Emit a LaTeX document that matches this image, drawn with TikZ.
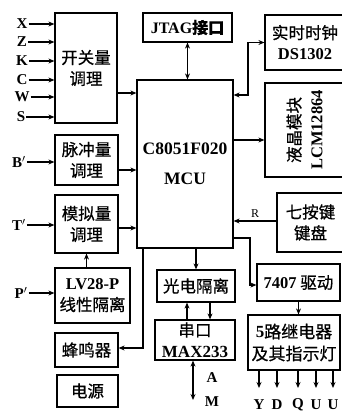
\documentclass[tikz,border=0pt]{standalone}
\usepackage{fontspec}
\setmainfont{Liberation Serif}
\newfontfamily\cjk{Noto Sans CJK SC}[FakeBold=0.6]
\usetikzlibrary{arrows.meta}
\newcommand\zh[1]{{\cjk #1}}
\begin{document}
\begin{tikzpicture}[x=1pt,y=-1pt,
  box/.style={draw, line width=1.2pt, inner sep=0pt, align=center, font=\cjk\fontsize{16.5}{21}\selectfont},
  latf/.style={font=\bfseries\fontsize{16}{21}\selectfont},
  arr/.style={-{Stealth[length=6pt,width=5pt]}, line width=1.2pt},
  darr/.style={{Stealth[length=6pt,width=5pt]}-{Stealth[length=6pt,width=5pt]}, line width=1.2pt},
  lbl/.style={font=\bfseries\fontsize{15}{15}\selectfont, inner sep=1pt},
  sml/.style={font=\fontsize{12}{12}\selectfont, inner sep=1pt}]
\useasboundingbox (0,0) rectangle (342,415);
\clip (0,0) rectangle (342,415);
% boxes
\node[box, minimum width=62pt, minimum height=110pt] (sw) at (86,68) {开关量\\调理};
\node[box, minimum width=96pt, minimum height=168pt, font=\bfseries\fontsize{17.5}{30}\selectfont] (mcu) at (185,164) {C8051F020\\MCU};
\node[box, minimum width=89pt, minimum height=29pt, latf] (jtag) at (187.5,27.5) {JTAG\zh{接口}};
\node[box, minimum width=80pt, minimum height=55pt] (rtc) at (305,42.5) {实时时钟\\{\bfseries\rmfamily DS1302}};
\node[box, minimum width=79pt, minimum height=94pt] (lcm) at (304.5,130) {};
\node[align=center, rotate=90, font=\cjk\fontsize{16.5}{22}\selectfont] (lcmt) at (lcm.center) {液晶模块\\{\bfseries\rmfamily LCM12864}};
\node[box, minimum width=67pt, minimum height=59pt] (key) at (310.5,222.5) {七按键\\键盘};
\node[box, minimum width=83pt, minimum height=37pt] (drv) at (298.5,282.5) {{\bfseries\rmfamily 7407} 驱动};
\node[box, minimum width=92pt, minimum height=55pt, font=\cjk\fontsize{17}{22}\selectfont] (relay) at (294,342.5) {{\bfseries\rmfamily 5}路继电器\\及其指示灯};
\node[box, minimum width=63pt, minimum height=50pt] (pulse) at (86.5,160) {脉冲量\\调理};
\node[box, minimum width=63pt, minimum height=58pt] (analog) at (86.5,224) {模拟量\\调理};
\node[box, minimum width=75pt, minimum height=55pt] (lv) at (92.5,295.5) {{\bfseries\rmfamily LV28-P}\\线性隔离};
\node[box, minimum width=63pt, minimum height=34pt] (buzz) at (86.5,350) {蜂鸣器};
\node[box, minimum width=61pt, minimum height=32pt] (pwr) at (87.5,391) {电源};
\node[box, minimum width=78pt, minimum height=32pt] (opto) at (196,286) {光电隔离};
\node[box, minimum width=80pt, minimum height=40pt] (uart) at (195,340) {串口\\{\bfseries\rmfamily\fontsize{17}{21}\selectfont MAX233}};
% inputs
\node[lbl] (iX) at (22,24) {X};
\node[lbl] (iZ) at (22,42) {Z};
\node[lbl] (iK) at (22,61) {K};
\node[lbl] (iC) at (22,80) {C};
\node[lbl] (iW) at (22,97) {W};
\node[lbl] (iS) at (21,117) {S};
\foreach \n in {iX,iZ,iK,iC,iW,iS}
  \draw[arr] (\n.east) -- (sw.west |- \n);
\node[lbl] (iB) at (19,162) {B$'$};
\node[lbl] (iT) at (19,225) {T$'$};
\node[lbl] (iP) at (21,293) {P$'$};
\draw[arr] (iB.east) -- (pulse.west |- iB);
\draw[arr] (iT.east) -- (analog.west |- iT);
\draw[arr] (iP.east) -- (lv.west |- iP);
% to MCU
\draw[arr] (sw.east |- 0,93) -- (mcu.west |- 0,93);
\draw[arr] (pulse.east |- 0,170) -- (mcu.west |- 0,170);
\draw[arr] (analog.east |- 0,228) -- (mcu.west |- 0,228);
\draw[arr] (analog.south |- lv.north) -- (analog.south);
\draw[darr] (jtag.south) -- (jtag.south |- mcu.north);
\draw[darr] (mcu.east |- 0,95) -- (248,95) -- (248,42.5) -- (rtc.west);
\draw[arr] (mcu.east |- 0,140) -- (lcm.west |- 0,140);
\draw[arr] (key.west |- 0,221) -- node[sml, above=2pt] (rl) {R} (mcu.east |- 0,221);
\draw[arr] (mcu.east |- 0,238) -- (250,238) -- (250,285) -- (drv.west |- 0,285);
\draw[arr] (drv.south) -- (drv.south |- relay.north);
% outputs
\coordinate (o1) at (259,388);
\coordinate (o2) at (277,388);
\coordinate (o3) at (298,388);
\coordinate (o4) at (316,388);
\coordinate (o5) at (333,388);
\foreach \c in {o1,o2,o3,o4,o5}
  \draw[arr] (relay.south -| \c) -- (\c);
\node[lbl] (lY) at (259,405) {Y};
\node[lbl] (lD) at (277,405) {D};
\node[lbl] (lQ) at (298,405) {Q};
\node[lbl] (lU1) at (316,405) {U};
\node[lbl] (lU2) at (333,405) {U};
% serial
\draw[arr] (opto.north |- mcu.south) -- (opto.north);
\draw[arr] (uart.north -| 187,0) -- (opto.south -| 187,0);
\draw[arr] (opto.south -| 210,0) -- (uart.north -| 210,0);
\coordinate (am) at (193,400);
\draw[darr] (uart.south -| am) -- (am);
\node[lbl] (lA) at (212,378) {A};
\node[lbl] (lM) at (212,402) {M};
% buzzer
\draw[arr] (mcu.south -| 143,0) -- (143,348) -- (buzz.east |- 0,348);
\end{tikzpicture}
\end{document}
